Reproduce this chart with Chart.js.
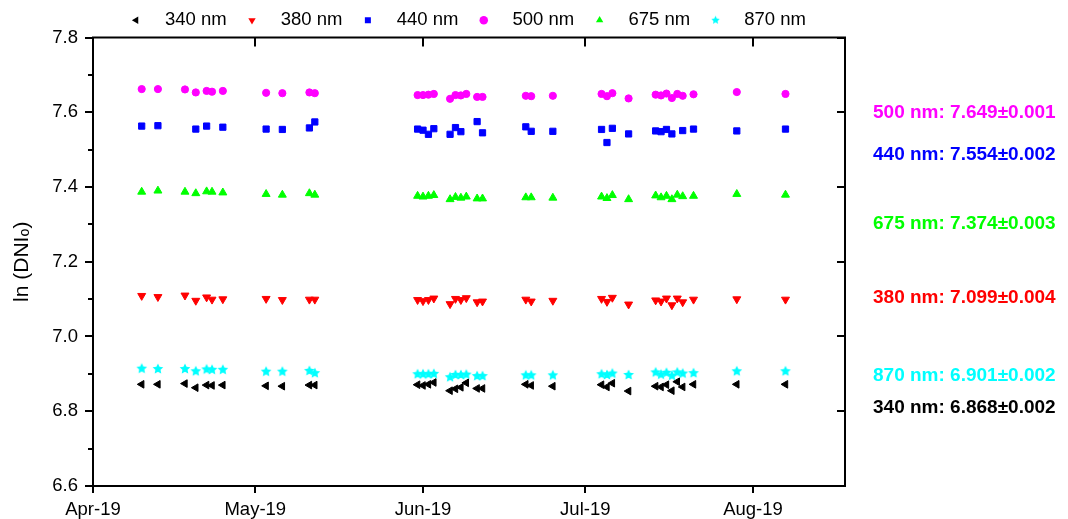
<!DOCTYPE html>
<html>
<head>
<meta charset="utf-8">
<script src="https://cdn.jsdelivr.net/npm/chart.js@4.4.1/dist/chart.umd.min.js"></script>
<style>
  html, body { margin: 0; padding: 0; background: #fff; }
</style>
</head>
<body>
<canvas id="c" width="1068" height="519"></canvas>
<script>
'use strict';

/* ---- data ---- */

// measurement days
const dates = [
  '2019-04-10', '2019-04-13', '2019-04-18', '2019-04-20', '2019-04-22', '2019-04-23', '2019-04-25',
  '2019-05-03', '2019-05-06', '2019-05-11', '2019-05-12',
  '2019-05-31', '2019-06-01', '2019-06-02', '2019-06-03', '2019-06-06', '2019-06-07', '2019-06-08',
  '2019-06-09', '2019-06-11', '2019-06-12', '2019-06-20', '2019-06-21', '2019-06-25',
  '2019-07-04', '2019-07-05', '2019-07-06', '2019-07-09', '2019-07-14', '2019-07-15', '2019-07-16',
  '2019-07-17', '2019-07-18', '2019-07-19', '2019-07-21', '2019-07-29', '2019-08-07'
];

// ln(DNIo) per wavelength, null = no point that day
const ln340 = [
  6.872, 6.872, 6.874, 6.863, 6.870, 6.869, 6.870, 6.868, 6.867, 6.870, 6.870,
  6.871, 6.869, 6.872, 6.877, 6.855, 6.860, 6.864, 6.876, 6.861, 6.861, 6.872, 6.869, 6.867,
  6.871, 6.865, 6.875, 6.854, 6.867, 6.865, 6.871, 6.855, 6.879, 6.865, 6.872, 6.872, 6.872
];
const ln380 = [
  7.109, 7.106, 7.110, 7.096, 7.105, 7.099, 7.100, 7.101, 7.098, 7.099, 7.099,
  7.098, 7.095, 7.098, 7.102, 7.087, 7.101, 7.098, 7.103, 7.092, 7.094, 7.099, 7.094, 7.096,
  7.101, 7.093, 7.104, 7.086, 7.097, 7.094, 7.102, 7.084, 7.102, 7.092, 7.099, 7.100, 7.099
];
const ln440 = [
  7.563, 7.564, null, 7.555, 7.563, null, 7.560, 7.555, 7.554, 7.558, 7.574,
  7.555, 7.552, 7.541, 7.556, 7.541, 7.559, 7.548, null, 7.575, 7.545, 7.561, 7.549, 7.549,
  7.554, 7.519, 7.557, 7.542, 7.550, 7.548, 7.554, 7.542, null, 7.551, 7.555, 7.550, 7.555
];
const ln500 = [
  7.662, 7.662, 7.661, 7.653, 7.657, 7.655, 7.657, 7.652, 7.651, 7.653, 7.651,
  7.646, 7.646, 7.647, 7.649, 7.636, 7.646, 7.645, 7.649, 7.641, 7.641, 7.644, 7.643, 7.644,
  7.649, 7.643, 7.651, 7.637, 7.647, 7.645, 7.650, 7.638, 7.649, 7.644, 7.648, 7.654, 7.649
];
const ln675 = [
  7.387, 7.390, 7.387, 7.383, 7.388, 7.387, 7.385, 7.381, 7.379, 7.383, 7.379,
  7.376, 7.374, 7.376, 7.378, 7.367, 7.373, 7.371, 7.374, 7.369, 7.369, 7.372, 7.372, 7.371,
  7.374, 7.370, 7.378, 7.367, 7.377, 7.372, 7.376, 7.367, 7.379, 7.375, 7.376, 7.381, 7.379
];
const ln870 = [
  6.914, 6.913, 6.913, 6.907, 6.912, 6.911, 6.911, 6.906, 6.906, 6.908, 6.902,
  6.899, 6.899, 6.899, 6.900, 6.891, 6.897, 6.897, 6.898, 6.894, 6.894, 6.896, 6.896, 6.896,
  6.899, 6.897, 6.901, 6.897, 6.904, 6.898, 6.903, 6.895, 6.904, 6.901, 6.902, 6.907, 6.907
];

const seriesNames = ['340 nm', '380 nm', '440 nm', '500 nm', '675 nm', '870 nm'];
const meanVals = [6.868, 7.099, 7.554, 7.649, 7.374, 6.901];
const stdVals  = [0.002, 0.004, 0.002, 0.001, 0.003, 0.002];

const monthTicks  = ['2019-04-01', '2019-05-01', '2019-06-01', '2019-07-01', '2019-08-01'];
const monthLabels = ['Apr-19', 'May-19', 'Jun-19', 'Jul-19', 'Aug-19'];
const xStart = '2019-04-01';
const xEnd = '2019-08-18';

/* ---- styling ---- */

const colors = ['#000000', '#ff0000', '#0000ff', '#ff00ff', '#00ff00', '#00ffff'];
// where each mean/std note sits on the y axis
const noteY = [6.809, 7.103, 7.486, 7.598, 7.301, 6.894];

const dayOf = s => Math.round((Date.parse(s) - Date.parse(xStart)) / 864e5);
const isMajorY = v => Math.round(v * 10) % 2 === 0;

function starCanvas(outer, color) {
  const s = Math.ceil(outer * 2 + 2);
  const cv = document.createElement('canvas');
  cv.width = cv.height = s;
  const g = cv.getContext('2d');
  g.fillStyle = color;
  g.beginPath();
  for (let k = 0; k < 10; k++) {
    const r = k % 2 ? outer * 0.48 : outer;
    const a = -Math.PI / 2 + k * Math.PI / 5;
    g.lineTo(s / 2 + r * Math.cos(a), s / 2 + r * Math.sin(a));
  }
  g.closePath();
  g.fill();
  return cv;
}
const starBig = starCanvas(5.6, colors[5]);
const starSmall = starCanvas(4.4, colors[5]);

const markers = [
  { pointStyle: 'triangle', rotation: 270, radius: 4.4 },
  { pointStyle: 'triangle', rotation: 180, radius: 4.6 },
  { pointStyle: 'rect', rotation: 0, radius: 4.4 },
  { pointStyle: 'circle', rotation: 0, radius: 3.6 },
  { pointStyle: 'triangle', rotation: 0, radius: 4.6 },
  { pointStyle: starBig, rotation: 0, radius: 5 },
];

const seriesValues = [ln340, ln380, ln440, ln500, ln675, ln870];

const datasets = seriesValues.map((vals, i) => ({
  label: seriesNames[i],
  data: dates.map((d, j) => ({ x: dayOf(d), y: vals[j] })).filter(p => p.y !== null),
  backgroundColor: colors[i],
  borderColor: colors[i],
  borderWidth: 1,
  pointStyle: markers[i].pointStyle,
  pointRotation: markers[i].rotation,
  pointRadius: markers[i].radius,
  showLine: false,
}));

/* ---- small plugins ---- */

// closed box round the plot
const frame = {
  id: 'frame',
  beforeDatasetsDraw(chart) {
    const { ctx, chartArea: a } = chart;
    ctx.save();
    ctx.strokeStyle = '#000';
    ctx.lineWidth = 2;
    ctx.strokeRect(a.left, a.top, a.right - a.left, a.bottom - a.top);
    ctx.restore();
  }
};

// centre the legend over the plot, not the canvas, and drop it a touch
const legendOverPlot = {
  id: 'legendOverPlot',
  afterLayout(chart) {
    const lg = chart.legend;
    lg.left = chart.chartArea.left;
    lg.right = chart.chartArea.right;
    lg.top += 2;
    lg.bottom += 2;
  }
};

// mean +- std notes right of the plot
const notes = {
  id: 'notes',
  afterDraw(chart) {
    const { ctx, chartArea, scales: { y } } = chart;
    ctx.save();
    ctx.font = 'bold 19px "Liberation Sans", Arial, sans-serif';
    ctx.textAlign = 'left';
    ctx.textBaseline = 'middle';
    seriesNames.forEach((name, i) => {
      ctx.fillStyle = colors[i];
      const txt = `${name}: ${meanVals[i].toFixed(3)}\u00b1${stdVals[i].toFixed(3)}`;
      ctx.fillText(txt, chartArea.right + 28, y.getPixelForValue(noteY[i]));
    });
    ctx.restore();
  }
};

Chart.defaults.font.family = '"Liberation Sans", Arial, sans-serif';
Chart.defaults.color = '#000';

const xTickDays = monthTicks.map(dayOf);

new Chart(document.getElementById('c'), {
  type: 'scatter',
  data: { datasets },
  options: {
    responsive: false,
    animation: false,
    layout: { padding: { top: -2, right: 223, left: 0, bottom: 0 } },
    plugins: {
      tooltip: { enabled: false },
      legend: {
        position: 'top',
        labels: {
          usePointStyle: true,
          boxHeight: 6,
          padding: 11,
          font: { size: 18.5 },
          color: '#000',
          generateLabels(chart) {
            const items = Chart.defaults.plugins.legend.labels.generateLabels(chart);
            items.forEach(it => {
              it.text = '  ' + it.text + ' ';
              it.lineWidth = 0;
              if (it.pointStyle === starBig) it.pointStyle = starSmall;
            });
            return items;
          }
        }
      }
    },
    scales: {
      x: {
        type: 'linear',
        min: 0,
        max: dayOf(xEnd),
        afterBuildTicks(s) { s.ticks = xTickDays.map(v => ({ value: v })); },
        afterFit(s) { s.height = 33; },
        ticks: {
          autoSkip: false,
          maxRotation: 0,
          padding: 6,
          font: { size: 18.5 },
          color: '#000',
          callback: v => monthLabels[xTickDays.indexOf(v)]
        },
        grid: {
          color: '#000',
          lineWidth: 2,
          tickLength: 7,
          tickWidth: 2,
          tickColor: '#000',
        },
        border: { display: false, dash: [9, 3000] }
      },
      y: {
        min: 6.6,
        max: 7.8,
        afterFit(s) { s.width = 93; },
        title: {
          display: true,
          text: 'ln (DNI\u2092)',
          font: { size: 21 },
          color: '#000',
          padding: { top: 10, bottom: 0 }
        },
        ticks: {
          stepSize: 0.1,
          padding: 7,
          font: { size: 18.5 },
          color: '#000',
          callback: v => isMajorY(v) ? Number(v).toFixed(1) : ''
        },
        grid: {
          color: c => (c.tick && isMajorY(c.tick.value)) ? '#000' : 'rgba(0,0,0,0)',
          lineWidth: 2,
          tickLength: 8,
          tickWidth: 2,
          tickColor: '#000',
          tickBorderDash: c => (c.tick && !isMajorY(c.tick.value)) ? [0, 3, 20, 0] : []
        },
        border: {
          display: false,
          dash: c => {
            const a = c.chart.chartArea;
            if (!a) return [];
            return [0, a.right - a.left - 8, 8, 3000];
          }
        }
      }
    }
  },
  plugins: [frame, legendOverPlot, notes]
});
</script>
</body>
</html>
